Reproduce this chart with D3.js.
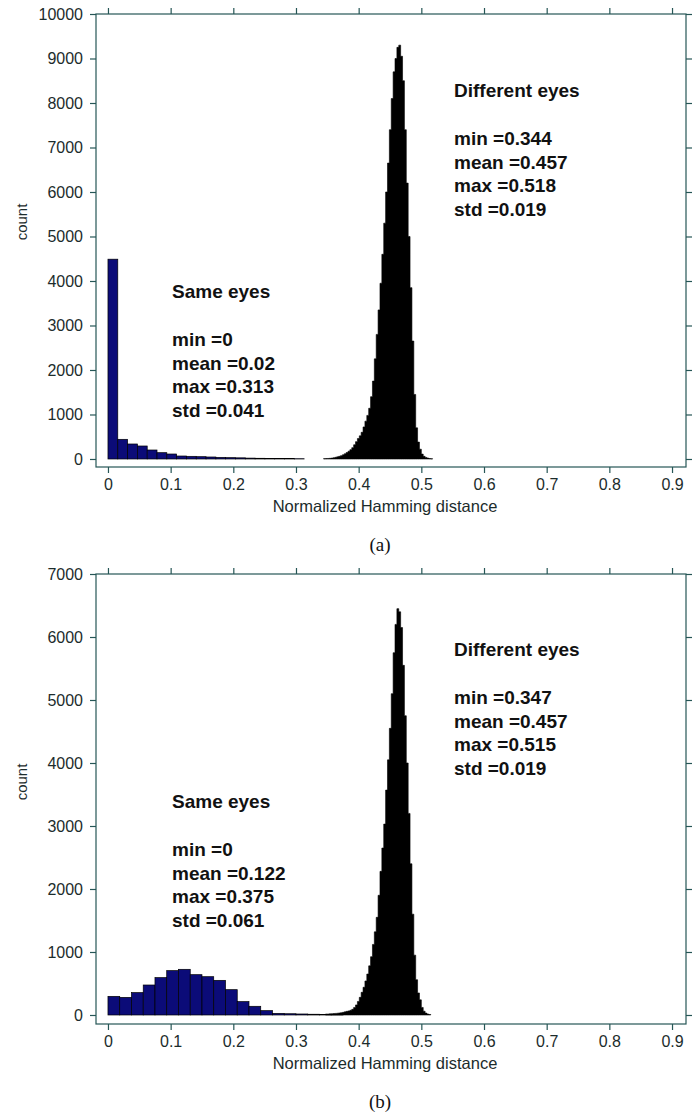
<!DOCTYPE html>
<html>
<head>
<meta charset="utf-8">
<script src="https://cdn.jsdelivr.net/npm/d3@7/dist/d3.min.js"></script>
<style>
  body { margin: 0; background: #fff; }
  svg { display: block; }
</style>
</head>
<body>
<div id="chart"></div>
<script>
// ---- data ----
const xTicks = [0, 0.1, 0.2, 0.3, 0.4, 0.5, 0.6, 0.7, 0.8, 0.9];
const yTicksA = [0, 1000, 2000, 3000, 4000, 5000, 6000, 7000, 8000, 9000, 10000];
const yTicksB = [0, 1000, 2000, 3000, 4000, 5000, 6000, 7000];

// (a) same eyes: 20 bins over [0, 0.313]
const sameRangeA = [0, 0.313];
const sameCountsA = [4490, 442, 337, 292, 202, 142, 112, 67, 60, 52, 45, 37, 30, 26, 20, 16, 13, 10, 8, 6];
// (a) different eyes: bins of 0.003 starting at 0.344
const diffStartA = 0.344;
const diffWidthA = 0.003;
const diffCountsA = [8, 10, 12, 15, 20, 28, 38, 48, 60, 75, 95, 118, 145, 175, 210, 255, 320, 390, 460, 520,
  600, 720, 850, 980, 1140, 1400, 1750, 2250, 2800, 3350, 3950, 4600, 5300, 6000, 6650, 7400, 8100, 8700,
  9000, 9250, 9300, 9050, 8500, 7400, 6200, 5000, 3850, 2650, 1450, 700, 380, 220, 110, 60, 35, 20, 10, 5];

// (b) same eyes: 20 bins over [0, 0.375]
const sameRangeB = [0, 0.375];
const sameCountsB = [296, 280, 355, 476, 593, 704, 725, 640, 608, 550, 402, 212, 138, 69, 26, 20, 16, 12, 10, 8];
// (b) different eyes: bins of 0.003 starting at 0.347
const diffStartB = 0.347;
const diffWidthB = 0.003;
const diffCountsB = [15, 15, 18, 20, 22, 25, 28, 32, 36, 42, 50, 58, 65, 75, 90, 120, 160, 215, 280, 360,
  440, 540, 650, 780, 925, 1120, 1320, 1550, 1900, 2280, 2650, 3030, 3570, 4050, 4550, 5100, 5750, 6200,
  6450, 6400, 6150, 5550, 4750, 4000, 3200, 2400, 1600, 950, 560, 350, 240, 120, 60, 30, 15, 8];

const sameStatsA = ["min =0", "mean =0.02", "max =0.313", "std =0.041"];
const diffStatsA = ["min =0.344", "mean =0.457", "max =0.518", "std =0.019"];
const sameStatsB = ["min =0", "mean =0.122", "max =0.375", "std =0.061"];
const diffStatsB = ["min =0.347", "mean =0.457", "max =0.515", "std =0.019"];

const FONT = "'Liberation Sans', Arial, Helvetica, sans-serif";
const frameColor = "#265656";
const textColor = "#1c2c2c";

const svg = d3.select("#chart").append("svg")
  .attr("width", 700)
  .attr("height", 1116);

function binsFromRange(range, counts) {
  const w = (range[1] - range[0]) / counts.length;
  return counts.map((c, i) => ({ x0: range[0] + i * w, x1: range[0] + (i + 1) * w, c }));
}
function binsFromStart(start, width, counts) {
  return counts.map((c, i) => ({ x0: start + i * width, x1: start + (i + 1) * width, c }));
}

function drawPanel(p) {
  const x = d3.scaleLinear().domain([-0.0191, 0.9223]).range([96, 686]);
  const y = d3.scaleLinear().domain(p.yDomain).range([p.bottom, p.top]);
  const g = svg.append("g");

  // fine-binned histogram drawn as one stepped area so no seams show
  const steps = p.diff.map(d => [d.x0, d.c]);
  const last = p.diff[p.diff.length - 1];
  steps.push([last.x1, last.c]);
  const area = d3.area()
    .x(d => x(d[0]))
    .y0(y(0))
    .y1(d => y(d[1]))
    .curve(d3.curveStepAfter);
  g.append("path")
    .datum(steps)
    .attr("d", area)
    .attr("fill", "#000")
    .attr("stroke", "#000")
    .attr("stroke-width", 0.6);

  g.selectAll("rect.same")
    .data(p.same)
    .join("rect")
    .attr("class", "same")
    .attr("x", d => x(d.x0))
    .attr("width", d => x(d.x1) - x(d.x0))
    .attr("y", d => y(d.c))
    .attr("height", d => y(0) - y(d.c))
    .attr("fill", "#0b0b78")
    .attr("stroke", "#000")
    .attr("stroke-width", 0.7);

  // axes, outward ticks on all four sides
  const axes = [
    g.append("g").attr("transform", `translate(96,0)`)
      .call(d3.axisLeft(y).tickValues(p.yTicks).tickSize(6).tickSizeOuter(0).tickFormat(d3.format("d"))),
    g.append("g").attr("transform", `translate(686,0)`)
      .call(d3.axisRight(y).tickValues(p.yTicks).tickSize(6).tickSizeOuter(0).tickFormat("")),
    g.append("g").attr("transform", `translate(0,${p.top})`)
      .call(d3.axisTop(x).tickValues(xTicks).tickSize(6).tickSizeOuter(0).tickFormat("")),
    g.append("g").attr("transform", `translate(0,${p.bottom})`)
      .call(d3.axisBottom(x).tickValues(xTicks).tickSize(6).tickSizeOuter(0).tickFormat(d => d === 0 ? "0" : d3.format(".1f")(d)))
  ];
  axes.forEach(a => {
    a.select(".domain").remove();
    a.selectAll("line").attr("stroke", frameColor).attr("stroke-width", 1.2);
    a.selectAll("text").attr("fill", textColor).style("font-family", FONT).style("font-size", "16px");
  });
  axes[0].selectAll("text").attr("x", -13);
  axes[3].selectAll("text").attr("y", 12);

  g.append("rect")
    .attr("x", 96).attr("y", p.top)
    .attr("width", 590).attr("height", p.bottom - p.top)
    .attr("fill", "none")
    .attr("stroke", frameColor)
    .attr("stroke-width", 1.2);

  // axis titles
  g.append("text")
    .attr("x", 385).attr("y", p.bottom + 45)
    .attr("text-anchor", "middle")
    .attr("fill", textColor)
    .style("font-family", FONT).style("font-size", "16.5px")
    .text("Normalized Hamming distance");
  g.append("text")
    .attr("transform", `translate(27,${p.countY}) rotate(-90)`)
    .attr("text-anchor", "middle")
    .attr("fill", textColor)
    .style("font-family", FONT).style("font-size", "15px")
    .text("count");
  g.append("text")
    .attr("x", 380).attr("y", p.bottom + 84)
    .attr("text-anchor", "middle")
    .attr("fill", "#111")
    .style("font-family", "'Liberation Serif', 'Times New Roman', serif").style("font-size", "19px")
    .text(p.label);

  // annotations
  [[p.sameTitleY, 172, "Same eyes", p.sameStats], [p.diffTitleY, 454, "Different eyes", p.diffStats]]
    .forEach(([ty, tx, title, stats]) => {
      const t = g.append("g")
        .style("font-family", FONT).style("font-size", "19px").style("font-weight", "bold")
        .attr("fill", "#111");
      t.append("text").attr("x", tx).attr("y", ty).text(title);
      stats.forEach((s, i) => t.append("text").attr("x", tx).attr("y", ty + 48 + i * 23.5).text(s));
    });
}

drawPanel({
  top: 14, bottom: 467, yDomain: [-180, 10000], yTicks: yTicksA,
  same: binsFromRange(sameRangeA, sameCountsA),
  diff: binsFromStart(diffStartA, diffWidthA, diffCountsA),
  countY: 222, label: "(a)",
  sameTitleY: 298, diffTitleY: 97,
  sameStats: sameStatsA, diffStats: diffStatsA
});
drawPanel({
  top: 574, bottom: 1024, yDomain: [-143, 7000], yTicks: yTicksB,
  same: binsFromRange(sameRangeB, sameCountsB),
  diff: binsFromStart(diffStartB, diffWidthB, diffCountsB),
  countY: 782, label: "(b)",
  sameTitleY: 808, diffTitleY: 656,
  sameStats: sameStatsB, diffStats: diffStatsB
});
</script>
</body>
</html>
